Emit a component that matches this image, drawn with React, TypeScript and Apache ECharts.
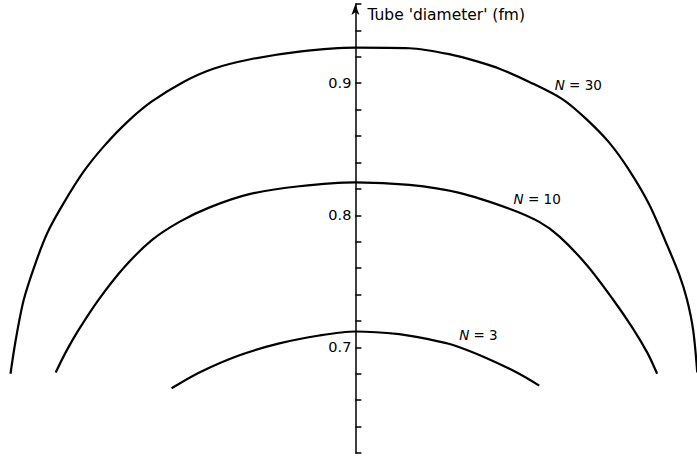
import React, { useEffect, useRef } from "react";
import * as echarts from "echarts";

// Axis
const yLabelValues = [0.7, 0.8, 0.9];
const axisTitle = "Tube 'diameter' (fm)";

// Curve labels
const curveNames = ["30", "10", "3"];

// N = 30
const n30X = [-1.015, -1.0, -0.976, -0.941, -0.906, -0.859, -0.8, -0.741, -0.674, -0.6, -0.506, -0.418, -0.312, -0.165, 0, 0.159, 0.276, 0.365, 0.424, 0.512, 0.609, 0.679, 0.747, 0.806, 0.865, 0.918, 0.953, 0.976, 0.994, 1.006];
const n30Y = [0.680, 0.705, 0.736, 0.764, 0.787, 0.809, 0.833, 0.852, 0.870, 0.886, 0.901, 0.911, 0.918, 0.924, 0.927, 0.9265, 0.922, 0.916, 0.911, 0.901, 0.888, 0.873, 0.855, 0.834, 0.808, 0.777, 0.755, 0.736, 0.713, 0.681];

// N = 10
const n10X = [-0.882, -0.853, -0.815, -0.756, -0.679, -0.6, -0.518, -0.429, -0.312, -0.165, 0, 0.159, 0.306, 0.453, 0.541, 0.6, 0.682, 0.756, 0.815, 0.859, 0.888];
const n10Y = [0.681, 0.696, 0.713, 0.736, 0.761, 0.781, 0.795, 0.806, 0.816, 0.822, 0.825, 0.823, 0.817, 0.805, 0.795, 0.784, 0.762, 0.737, 0.715, 0.696, 0.680];

// N = 3
const n3X = [-0.541, -0.459, -0.341, -0.224, -0.106, 0, 0.129, 0.218, 0.285, 0.385, 0.482, 0.541];
const n3Y = [0.669, 0.681, 0.694, 0.703, 0.709, 0.712, 0.710, 0.706, 0.702, 0.692, 0.680, 0.671];

// Label anchor points (data units)
const labelX = [0.656, 0.535, 0.362];
const labelY = [0.899, 0.8125, 0.709];

const FONT = "'DejaVu Sans', 'Liberation Sans', sans-serif";

const X_MIN = -1.04;
const X_MAX = 1.02;
const GRID_LEFT = 2;
const GRID_RIGHT = -5;

const zip = (xs: number[], ys: number[]) => xs.map((x, i) => [x, ys[i]]);

export default function App() {
  const ref = useRef<HTMLDivElement>(null);

  useEffect(() => {
    if (!ref.current) return;
    const chart = echarts.init(ref.current, undefined, { renderer: "svg" });
    const curves = [zip(n30X, n30Y), zip(n10X, n10Y), zip(n3X, n3Y)];

    // shift the y axis from the grid's left edge to x = 0
    const gridWidth = 697 - GRID_LEFT - GRID_RIGHT;
    const zeroOffset = (-X_MIN / (X_MAX - X_MIN)) * gridWidth;

    chart.setOption({
      animation: false,
      backgroundColor: "#fff",
      grid: {
        left: GRID_LEFT,
        right: GRID_RIGHT,
        top: 4,
        bottom: 3,
        containLabel: false,
        outerBoundsMode: "none",
      },
      xAxis: {
        type: "value",
        min: X_MIN,
        max: X_MAX,
        show: false,
      },
      yAxis: {
        type: "value",
        position: "left",
        offset: -zeroOffset,
        min: 0.62,
        max: 0.96,
        interval: 0.02,
        name: axisTitle,
        nameLocation: "end",
        nameGap: -11,
        nameTextStyle: {
          align: "left",
          verticalAlign: "middle",
          padding: [0, 0, 0, 12],
          color: "#000",
          fontSize: 15.5,
          fontFamily: FONT,
        },
        axisLine: {
          show: true,
          onZero: false,
          symbol: ["none", "arrow"],
          symbolSize: [6, 11],
          lineStyle: { color: "#000", width: 1.5 },
        },
        axisTick: {
          show: true,
          inside: true,
          length: 6,
          lineStyle: { color: "#000", width: 1.5 },
        },
        axisLabel: {
          margin: 4,
          color: "#000",
          fontSize: 14.5,
          fontFamily: FONT,
          formatter: (v: number) => {
            const hit = yLabelValues.find((t) => Math.abs(t - v) < 1e-6);
            return hit !== undefined ? hit.toFixed(1) : "";
          },
        },
        splitLine: { show: false },
      },
      series: curves.map((data, i) => ({
        type: "line",
        data,
        smooth: 0.3,
        showSymbol: false,
        clip: false,
        lineStyle: { color: "#000", width: 2.2 },
        markPoint: {
          symbol: "circle",
          symbolSize: 0,
          data: [
            {
              coord: [labelX[i], labelY[i]],
              label: {
                show: true,
                position: "inside",
                formatter: "{it|N} = " + curveNames[i],
                color: "#000",
                fontSize: 13.5,
                fontFamily: FONT,
                rich: {
                  it: { fontStyle: "italic", fontSize: 13.5, fontFamily: FONT, color: "#000" },
                },
              },
            },
          ],
        },
      })),
    });

    return () => chart.dispose();
  }, []);

  return (
    <div
      ref={ref}
      style={{ position: "fixed", left: 0, top: 0, width: 697, height: 456, background: "#fff" }}
    />
  );
}
